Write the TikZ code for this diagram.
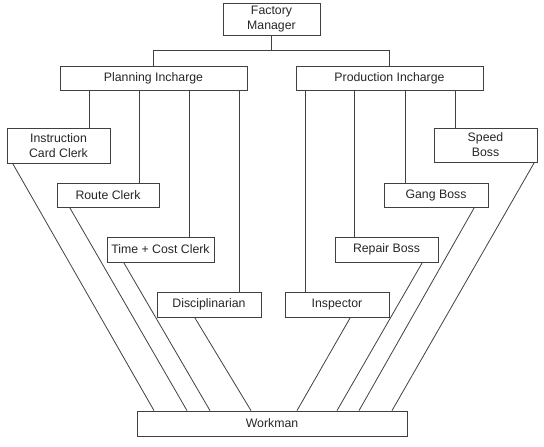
\documentclass[tikz,border=0pt]{standalone}
\usepackage{fontspec}
\setmainfont{Liberation Sans}
\usetikzlibrary{calc}

\begin{document}
\begin{tikzpicture}[x=1pt,y=-1pt,line width=0.8pt,draw=black!75,
        box/.style={draw=black!75,rectangle,inner sep=0pt,align=center,
            font=\fontsize{12.3}{15}\selectfont,text=black!85}]
        \useasboundingbox (0,0) rectangle (544,447);
        
        \node[box,minimum width=97pt,minimum height=32pt] (fm) at (271.5,19) {Factory\\Manager};
        \node[box,minimum width=187pt,minimum height=24pt] (plan) at (153.5,78) {Planning Incharge};
        \node[box,minimum width=187pt,minimum height=24pt] (prod) at (389.5,78) {Production Incharge};
        
        \node[box,minimum width=103pt,minimum height=35pt] (icc) at (58.5,145.5) {Instruction\\Card Clerk};
        \node[box,minimum width=102pt,minimum height=24pt] (route) at (108,195) {Route Clerk};
        \node[box,minimum width=107pt,minimum height=25pt] (tcc) at (160.5,249.5) {Time + Cost Clerk};
        \node[box,minimum width=104pt,minimum height=25pt] (disc) at (209,304.5) {Disciplinarian};
        
        \node[box,minimum width=103pt,minimum height=34pt] (speed) at (485.5,145) {Speed\\Boss};
        \node[box,minimum width=104pt,minimum height=24pt] (gang) at (436,195) {Gang Boss};
        \node[box,minimum width=103pt,minimum height=25pt] (repair) at (386.5,249.5) {Repair Boss};
        \node[box,minimum width=104pt,minimum height=25pt] (insp) at (337,304.5) {Inspector};
        
        \node[box,minimum width=270pt,minimum height=25pt] (wm) at (272,423.5) {Workman};
        
        % manager to incharges
        \draw (fm.south) -- (fm.south |- 0,50) -| (plan.north);
        \draw (fm.south |- 0,50) -| (prod.north);
        
        % planning side
        \draw (plan.south -| 89,0) -- (icc.north -| 89,0);
        \draw (plan.south -| 139,0) -- (route.north -| 139,0);
        \draw (plan.south -| 189,0) -- (tcc.north -| 189,0);
        \draw (plan.south -| 239,0) -- (disc.north -| 239,0);
        
        % production side
        \draw (prod.south -| 305,0) -- (insp.north -| 305,0);
        \draw (prod.south -| 354,0) -- (repair.north -| 354,0);
        \draw (prod.south -| 405,0) -- (gang.north -| 405,0);
        \draw (prod.south -| 455,0) -- (speed.north -| 455,0);
        
        % down to workman
        \draw ([xshift=6pt]icc.south west) -- (wm.north -| 154,0);
        \draw ([xshift=13pt]route.south west) -- (wm.north -| 187,0);
        \draw ([xshift=17pt]tcc.south west) -- (wm.north -| 210,0);
        \draw ([xshift=38pt]disc.south west) -- (wm.north -| 251,0);
        
        \draw ([xshift=-39pt]insp.south east) -- (wm.north -| 297,0);
        \draw ([xshift=-16pt]repair.south east) -- (wm.north -| 337,0);
        \draw ([xshift=-14pt]gang.south east) -- (wm.north -| 359,0);
        \draw ([xshift=-3pt]speed.south east) -- (wm.north -| 392,0);
    \end{tikzpicture}
\end{document}
